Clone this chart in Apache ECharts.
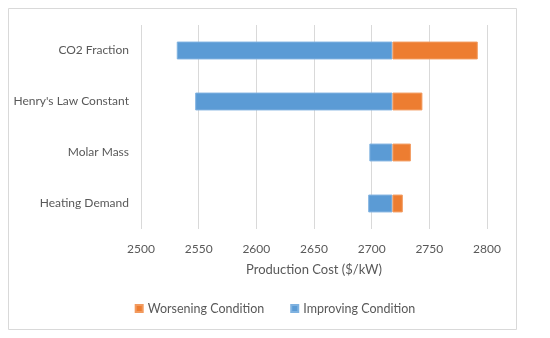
<!DOCTYPE html>
<html><head><meta charset="utf-8">
<script src="https://cdn.jsdelivr.net/npm/echarts@6/dist/echarts.min.js"></script>
<style>html,body{margin:0;padding:0;background:#fff}#c{width:550px;height:338px}</style>
</head><body><div id="c"></div>
<script>
const categories = ["Heating Demand", "Molar Mass", "Henry's Law Constant", "CO2 Fraction"];
const baseCost = 2718;
const improvingLow = [2697, 2698, 2547, 2531];
const worseningHigh = [2727, 2734, 2744, 2792];
const xTicks = {min: 2500, max: 2800, interval: 50};

const font = "Lato, 'Open Sans', sans-serif";
const chart = echarts.init(document.getElementById('c'), null, {renderer: 'canvas'});
chart.setOption({
  animation: false,
  backgroundColor: '#fff',
  graphic: [{type: 'rect', shape: {x: 8.5, y: 8.5, width: 508, height: 321}, style: {fill: 'none', stroke: '#d9d9d9', lineWidth: 1}, silent: true}],
  grid: {left: 141, right: 63, top: 25, bottom: 109, containLabel: false},
  legend: {
    data: ['Worsening Condition', 'Improving Condition'],
    bottom: 18, left: 'center', itemWidth: 7, itemHeight: 7, itemGap: 26,
    icon: 'rect',
    textStyle: {color: '#595959', fontSize: 12.5, fontFamily: font}
  },
  xAxis: {
    type: 'value', min: xTicks.min, max: xTicks.max, interval: xTicks.interval,
    name: 'Production Cost ($/kW)', nameLocation: 'middle', nameGap: 34,
    nameTextStyle: {color: '#595959', fontSize: 13, fontFamily: font},
    axisLine: {show: false}, axisTick: {show: false},
    axisLabel: {color: '#595959', fontSize: 12, fontFamily: font, margin: 14, formatter: v => String(v)},
    splitLine: {lineStyle: {color: '#d9d9d9', width: 1}}
  },
  yAxis: {
    type: 'category', data: categories,
    axisLine: {show: false}, axisTick: {show: false},
    axisLabel: {color: '#595959', fontSize: 12, fontFamily: font, margin: 12}
  },
  series: [
    {name: 'offset', type: 'bar', stack: 't', barWidth: '35%', silent: true,
     itemStyle: {color: 'transparent'},
     data: improvingLow},
    {name: 'Improving Condition', type: 'bar', stack: 't', barWidth: '35%',
     itemStyle: {color: '#5B9BD5', borderColor: '#7fb2e0', borderWidth: 1},
     data: improvingLow.map(v => baseCost - v)},
    {name: 'Worsening Condition', type: 'bar', stack: 't', barWidth: '35%',
     itemStyle: {color: '#ED7D31', borderColor: '#f29a5e', borderWidth: 1},
     data: worseningHigh.map(v => v - baseCost)}
  ]
});
</script></body></html>
